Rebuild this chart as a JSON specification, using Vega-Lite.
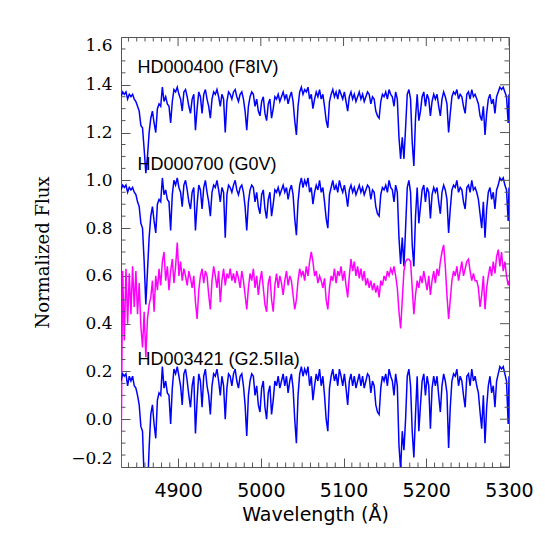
{
"$schema": "https://vega.github.io/schema/vega-lite/v6.json",
"width": 388, "height": 430,
"autosize": {"type": "none"},
"padding": {"left": 121, "top": 37, "right": 36, "bottom": 78},
"background": "white",
"config": {"view": {"stroke": "#555", "strokeWidth": 1}, "axis": {"grid": false, "domain": false, "labelColor": "black", "titleColor": "black", "tickColor": "#555", "tickWidth": 1}},
"datasets": {
"spec": [
{"w":4831,"a":1.35,"b":0.96,"c":-0.22,"d":0.16},
{"w":4833,"a":1.37,"b":0.98,"c":0.62,"d":0.19},
{"w":4835,"a":1.36,"b":0.97,"c":0.33,"d":0.18},
{"w":4837,"a":1.37,"b":0.98,"c":0.63,"d":0.19},
{"w":4839,"a":1.34,"b":0.95,"c":0.40,"d":0.14},
{"w":4841,"a":1.36,"b":0.97,"c":0.61,"d":0.18},
{"w":4843,"a":1.35,"b":0.96,"c":0.44,"d":0.16},
{"w":4845,"a":1.36,"b":0.97,"c":0.64,"d":0.18},
{"w":4847,"a":1.34,"b":0.95,"c":0.47,"d":0.14},
{"w":4849,"a":1.33,"b":0.94,"c":0.62,"d":0.13},
{"w":4851,"a":1.31,"b":0.91,"c":0.44,"d":0.10},
{"w":4853,"a":1.29,"b":0.89,"c":0.57,"d":0.06},
{"w":4855,"a":1.23,"b":0.82,"c":0.39,"d":-0.03},
{"w":4857,"a":1.22,"b":0.80,"c":0.30,"d":-0.05},
{"w":4859,"a":1.13,"b":0.66,"c":0.45,"d":-0.25},
{"w":4861,"a":1.03,"b":0.48,"c":0.26,"d":-0.45},
{"w":4863,"a":1.10,"b":0.62,"c":0.42,"d":-0.30},
{"w":4865,"a":1.20,"b":0.76,"c":0.48,"d":-0.12},
{"w":4867,"a":1.26,"b":0.85,"c":0.51,"d":0.02},
{"w":4869,"a":1.29,"b":0.89,"c":0.58,"d":0.06},
{"w":4871,"a":1.24,"b":0.83,"c":0.45,"d":-0.02},
{"w":4873,"a":1.20,"b":0.78,"c":0.60,"d":-0.08},
{"w":4875,"a":1.30,"b":0.90,"c":0.54,"d":0.08},
{"w":4877,"a":1.32,"b":0.92,"c":0.63,"d":0.11},
{"w":4879,"a":1.31,"b":0.91,"c":0.56,"d":0.10},
{"w":4881,"a":1.39,"b":1.01,"c":0.66,"d":0.22},
{"w":4883,"a":1.33,"b":0.94,"c":0.70,"d":0.13},
{"w":4885,"a":1.35,"b":0.96,"c":0.58,"d":0.16},
{"w":4887,"a":1.32,"b":0.92,"c":0.64,"d":0.11},
{"w":4889,"a":1.31,"b":0.91,"c":0.54,"d":0.10},
{"w":4891,"a":1.24,"b":0.79,"c":0.62,"d":-0.02},
{"w":4893,"a":1.33,"b":0.94,"c":0.67,"d":0.13},
{"w":4895,"a":1.38,"b":1.00,"c":0.57,"d":0.21},
{"w":4897,"a":1.37,"b":0.98,"c":0.64,"d":0.19},
{"w":4899,"a":1.39,"b":1.01,"c":0.74,"d":0.22},
{"w":4901,"a":1.36,"b":0.97,"c":0.60,"d":0.18},
{"w":4903,"a":1.34,"b":0.95,"c":0.66,"d":0.14},
{"w":4905,"a":1.29,"b":0.89,"c":0.58,"d":0.06},
{"w":4907,"a":1.37,"b":0.98,"c":0.63,"d":0.19},
{"w":4909,"a":1.38,"b":1.00,"c":0.60,"d":0.21},
{"w":4911,"a":1.35,"b":0.96,"c":0.56,"d":0.16},
{"w":4913,"a":1.31,"b":0.91,"c":0.62,"d":0.10},
{"w":4915,"a":1.28,"b":0.88,"c":0.59,"d":0.05},
{"w":4917,"a":1.34,"b":0.95,"c":0.55,"d":0.14},
{"w":4919,"a":1.36,"b":0.97,"c":0.60,"d":0.18},
{"w":4921,"a":1.21,"b":0.79,"c":0.49,"d":-0.06},
{"w":4923,"a":1.30,"b":0.90,"c":0.42,"d":0.08},
{"w":4925,"a":1.37,"b":0.98,"c":0.54,"d":0.19},
{"w":4927,"a":1.35,"b":0.96,"c":0.60,"d":0.16},
{"w":4929,"a":1.28,"b":0.88,"c":0.63,"d":0.05},
{"w":4931,"a":1.36,"b":0.97,"c":0.57,"d":0.18},
{"w":4933,"a":1.38,"b":1.00,"c":0.62,"d":0.21},
{"w":4935,"a":1.34,"b":0.95,"c":0.60,"d":0.14},
{"w":4937,"a":1.31,"b":0.91,"c":0.52,"d":0.10},
{"w":4939,"a":1.26,"b":0.85,"c":0.46,"d":0.02},
{"w":4941,"a":1.34,"b":0.95,"c":0.58,"d":0.14},
{"w":4943,"a":1.37,"b":0.98,"c":0.64,"d":0.19},
{"w":4945,"a":1.36,"b":0.97,"c":0.60,"d":0.18},
{"w":4947,"a":1.38,"b":1.00,"c":0.55,"d":0.21},
{"w":4949,"a":1.35,"b":0.96,"c":0.62,"d":0.16},
{"w":4951,"a":1.31,"b":0.91,"c":0.49,"d":0.10},
{"w":4953,"a":1.36,"b":0.97,"c":0.58,"d":0.18},
{"w":4955,"a":1.34,"b":0.95,"c":0.63,"d":0.14},
{"w":4957,"a":1.20,"b":0.76,"c":0.56,"d":0.00},
{"w":4959,"a":1.33,"b":0.94,"c":0.61,"d":0.13},
{"w":4961,"a":1.37,"b":0.98,"c":0.59,"d":0.19},
{"w":4963,"a":1.36,"b":0.97,"c":0.63,"d":0.18},
{"w":4965,"a":1.34,"b":0.95,"c":0.58,"d":0.14},
{"w":4967,"a":1.37,"b":0.98,"c":0.61,"d":0.19},
{"w":4969,"a":1.38,"b":1.00,"c":0.57,"d":0.21},
{"w":4971,"a":1.35,"b":0.96,"c":0.62,"d":0.16},
{"w":4973,"a":1.33,"b":0.94,"c":0.59,"d":0.13},
{"w":4975,"a":1.36,"b":0.97,"c":0.55,"d":0.18},
{"w":4977,"a":1.37,"b":0.98,"c":0.62,"d":0.19},
{"w":4979,"a":1.34,"b":0.95,"c":0.58,"d":0.14},
{"w":4981,"a":1.29,"b":0.89,"c":0.52,"d":0.06},
{"w":4983,"a":1.21,"b":0.79,"c":0.46,"d":-0.07},
{"w":4985,"a":1.31,"b":0.91,"c":0.55,"d":0.10},
{"w":4987,"a":1.35,"b":0.96,"c":0.61,"d":0.16},
{"w":4989,"a":1.37,"b":0.98,"c":0.58,"d":0.19},
{"w":4991,"a":1.36,"b":0.97,"c":0.63,"d":0.18},
{"w":4993,"a":1.31,"b":0.91,"c":0.55,"d":0.10},
{"w":4995,"a":1.34,"b":0.95,"c":0.60,"d":0.14},
{"w":4997,"a":1.29,"b":0.89,"c":0.52,"d":0.06},
{"w":4999,"a":1.27,"b":0.86,"c":0.58,"d":0.03},
{"w":5001,"a":1.33,"b":0.94,"c":0.62,"d":0.13},
{"w":5003,"a":1.35,"b":0.96,"c":0.55,"d":0.16},
{"w":5005,"a":1.28,"b":0.88,"c":0.48,"d":0.05},
{"w":5007,"a":1.25,"b":0.84,"c":0.45,"d":0.00},
{"w":5009,"a":1.32,"b":0.92,"c":0.57,"d":0.11},
{"w":5011,"a":1.34,"b":0.95,"c":0.60,"d":0.14},
{"w":5013,"a":1.26,"b":0.85,"c":0.50,"d":0.02},
{"w":5015,"a":1.30,"b":0.90,"c":0.45,"d":0.08},
{"w":5017,"a":1.35,"b":0.96,"c":0.56,"d":0.16},
{"w":5019,"a":1.34,"b":0.95,"c":0.61,"d":0.14},
{"w":5021,"a":1.36,"b":0.97,"c":0.55,"d":0.18},
{"w":5023,"a":1.33,"b":0.94,"c":0.60,"d":0.13},
{"w":5025,"a":1.35,"b":0.96,"c":0.57,"d":0.16},
{"w":5027,"a":1.37,"b":0.98,"c":0.52,"d":0.19},
{"w":5029,"a":1.34,"b":0.95,"c":0.58,"d":0.14},
{"w":5031,"a":1.36,"b":0.97,"c":0.62,"d":0.18},
{"w":5033,"a":1.32,"b":0.92,"c":0.56,"d":0.11},
{"w":5035,"a":1.35,"b":0.96,"c":0.60,"d":0.16},
{"w":5037,"a":1.37,"b":0.98,"c":0.58,"d":0.19},
{"w":5039,"a":1.33,"b":0.94,"c":0.52,"d":0.13},
{"w":5041,"a":1.25,"b":0.84,"c":0.46,"d":0.00},
{"w":5043,"a":1.19,"b":0.77,"c":0.50,"d":-0.10},
{"w":5045,"a":1.31,"b":0.91,"c":0.58,"d":0.10},
{"w":5047,"a":1.37,"b":0.98,"c":0.63,"d":0.19},
{"w":5049,"a":1.39,"b":1.01,"c":0.60,"d":0.22},
{"w":5051,"a":1.36,"b":0.97,"c":0.62,"d":0.18},
{"w":5053,"a":1.38,"b":1.00,"c":0.58,"d":0.21},
{"w":5055,"a":1.37,"b":0.98,"c":0.64,"d":0.19},
{"w":5057,"a":1.39,"b":1.01,"c":0.60,"d":0.22},
{"w":5059,"a":1.34,"b":0.95,"c":0.66,"d":0.14},
{"w":5061,"a":1.36,"b":0.97,"c":0.70,"d":0.18},
{"w":5063,"a":1.30,"b":0.90,"c":0.66,"d":0.08},
{"w":5065,"a":1.34,"b":0.95,"c":0.60,"d":0.14},
{"w":5067,"a":1.37,"b":0.98,"c":0.62,"d":0.19},
{"w":5069,"a":1.35,"b":0.96,"c":0.57,"d":0.16},
{"w":5071,"a":1.38,"b":1.00,"c":0.60,"d":0.21},
{"w":5073,"a":1.34,"b":0.95,"c":0.58,"d":0.14},
{"w":5075,"a":1.36,"b":0.97,"c":0.55,"d":0.18},
{"w":5077,"a":1.31,"b":0.91,"c":0.59,"d":0.10},
{"w":5079,"a":1.25,"b":0.84,"c":0.50,"d":0.00},
{"w":5081,"a":1.22,"b":0.80,"c":0.46,"d":-0.05},
{"w":5083,"a":1.33,"b":0.94,"c":0.55,"d":0.13},
{"w":5085,"a":1.36,"b":0.97,"c":0.60,"d":0.18},
{"w":5087,"a":1.38,"b":1.00,"c":0.58,"d":0.21},
{"w":5089,"a":1.35,"b":0.96,"c":0.63,"d":0.16},
{"w":5091,"a":1.37,"b":0.98,"c":0.57,"d":0.19},
{"w":5093,"a":1.34,"b":0.95,"c":0.62,"d":0.14},
{"w":5095,"a":1.38,"b":1.00,"c":0.60,"d":0.21},
{"w":5097,"a":1.36,"b":0.97,"c":0.64,"d":0.18},
{"w":5099,"a":1.34,"b":0.95,"c":0.58,"d":0.14},
{"w":5101,"a":1.37,"b":0.98,"c":0.62,"d":0.19},
{"w":5103,"a":1.33,"b":0.94,"c":0.56,"d":0.13},
{"w":5105,"a":1.29,"b":0.89,"c":0.51,"d":0.06},
{"w":5107,"a":1.35,"b":0.96,"c":0.60,"d":0.16},
{"w":5109,"a":1.37,"b":0.98,"c":0.67,"d":0.19},
{"w":5111,"a":1.34,"b":0.95,"c":0.62,"d":0.14},
{"w":5113,"a":1.36,"b":0.97,"c":0.66,"d":0.18},
{"w":5115,"a":1.33,"b":0.94,"c":0.60,"d":0.13},
{"w":5117,"a":1.35,"b":0.96,"c":0.64,"d":0.16},
{"w":5119,"a":1.37,"b":0.98,"c":0.59,"d":0.19},
{"w":5121,"a":1.34,"b":0.95,"c":0.63,"d":0.14},
{"w":5123,"a":1.36,"b":0.97,"c":0.58,"d":0.18},
{"w":5125,"a":1.33,"b":0.94,"c":0.62,"d":0.13},
{"w":5127,"a":1.35,"b":0.96,"c":0.56,"d":0.16},
{"w":5129,"a":1.37,"b":0.98,"c":0.59,"d":0.19},
{"w":5131,"a":1.36,"b":0.97,"c":0.55,"d":0.18},
{"w":5133,"a":1.32,"b":0.92,"c":0.58,"d":0.11},
{"w":5135,"a":1.35,"b":0.96,"c":0.54,"d":0.16},
{"w":5137,"a":1.34,"b":0.95,"c":0.57,"d":0.14},
{"w":5139,"a":1.29,"b":0.89,"c":0.53,"d":0.06},
{"w":5141,"a":1.27,"b":0.86,"c":0.56,"d":0.03},
{"w":5143,"a":1.26,"b":0.85,"c":0.51,"d":0.02},
{"w":5145,"a":1.33,"b":0.94,"c":0.58,"d":0.13},
{"w":5147,"a":1.36,"b":0.97,"c":0.56,"d":0.18},
{"w":5149,"a":1.35,"b":0.96,"c":0.60,"d":0.16},
{"w":5151,"a":1.37,"b":0.98,"c":0.58,"d":0.19},
{"w":5153,"a":1.34,"b":0.95,"c":0.62,"d":0.14},
{"w":5155,"a":1.38,"b":1.00,"c":0.60,"d":0.21},
{"w":5157,"a":1.36,"b":0.97,"c":0.63,"d":0.18},
{"w":5159,"a":1.35,"b":0.96,"c":0.61,"d":0.16},
{"w":5161,"a":1.31,"b":0.91,"c":0.64,"d":0.10},
{"w":5163,"a":1.37,"b":0.98,"c":0.60,"d":0.19},
{"w":5165,"a":1.34,"b":0.95,"c":0.55,"d":0.14},
{"w":5167,"a":1.18,"b":0.76,"c":0.45,"d":-0.11},
{"w":5169,"a":1.09,"b":0.65,"c":0.38,"d":-0.21},
{"w":5171,"a":1.18,"b":0.76,"c":0.50,"d":-0.05},
{"w":5173,"a":1.09,"b":0.64,"c":0.62,"d":-0.13},
{"w":5175,"a":1.22,"b":0.80,"c":0.66,"d":0.00},
{"w":5177,"a":1.36,"b":0.97,"c":0.67,"d":0.18},
{"w":5179,"a":1.38,"b":1.00,"c":0.67,"d":0.21},
{"w":5181,"a":1.34,"b":0.95,"c":0.66,"d":0.14},
{"w":5183,"a":1.16,"b":0.73,"c":0.55,"d":-0.05},
{"w":5185,"a":1.06,"b":0.64,"c":0.44,"d":-0.16},
{"w":5187,"a":1.26,"b":0.85,"c":0.52,"d":0.02},
{"w":5189,"a":1.36,"b":0.97,"c":0.58,"d":0.18},
{"w":5191,"a":1.25,"b":0.82,"c":0.55,"d":-0.05},
{"w":5193,"a":1.29,"b":0.89,"c":0.60,"d":0.06},
{"w":5195,"a":1.35,"b":0.96,"c":0.57,"d":0.16},
{"w":5197,"a":1.37,"b":0.98,"c":0.62,"d":0.19},
{"w":5199,"a":1.31,"b":0.91,"c":0.58,"d":0.10},
{"w":5201,"a":1.36,"b":0.97,"c":0.54,"d":0.18},
{"w":5203,"a":1.34,"b":0.95,"c":0.60,"d":0.14},
{"w":5205,"a":1.27,"b":0.84,"c":0.52,"d":-0.04},
{"w":5207,"a":1.33,"b":0.94,"c":0.58,"d":0.13},
{"w":5209,"a":1.36,"b":0.97,"c":0.62,"d":0.18},
{"w":5211,"a":1.34,"b":0.95,"c":0.57,"d":0.14},
{"w":5213,"a":1.36,"b":0.97,"c":0.63,"d":0.18},
{"w":5215,"a":1.31,"b":0.91,"c":0.60,"d":0.10},
{"w":5217,"a":1.27,"b":0.86,"c":0.66,"d":0.03},
{"w":5219,"a":1.34,"b":0.95,"c":0.70,"d":0.14},
{"w":5221,"a":1.37,"b":0.98,"c":0.73,"d":0.19},
{"w":5223,"a":1.35,"b":0.96,"c":0.64,"d":0.16},
{"w":5225,"a":1.32,"b":0.92,"c":0.52,"d":0.11},
{"w":5227,"a":1.20,"b":0.78,"c":0.42,"d":-0.12},
{"w":5229,"a":1.28,"b":0.88,"c":0.50,"d":0.05},
{"w":5231,"a":1.35,"b":0.96,"c":0.58,"d":0.16},
{"w":5233,"a":1.37,"b":0.98,"c":0.62,"d":0.19},
{"w":5235,"a":1.36,"b":0.97,"c":0.60,"d":0.18},
{"w":5237,"a":1.38,"b":1.00,"c":0.64,"d":0.21},
{"w":5239,"a":1.34,"b":0.95,"c":0.58,"d":0.14},
{"w":5241,"a":1.36,"b":0.97,"c":0.62,"d":0.18},
{"w":5243,"a":1.35,"b":0.96,"c":0.66,"d":0.16},
{"w":5245,"a":1.31,"b":0.91,"c":0.60,"d":0.10},
{"w":5247,"a":1.28,"b":0.88,"c":0.63,"d":0.05},
{"w":5249,"a":1.36,"b":0.97,"c":0.66,"d":0.18},
{"w":5251,"a":1.37,"b":0.98,"c":0.67,"d":0.19},
{"w":5253,"a":1.34,"b":0.95,"c":0.62,"d":0.14},
{"w":5255,"a":1.38,"b":1.00,"c":0.58,"d":0.21},
{"w":5257,"a":1.35,"b":0.96,"c":0.61,"d":0.16},
{"w":5259,"a":1.36,"b":0.97,"c":0.58,"d":0.18},
{"w":5261,"a":1.34,"b":0.95,"c":0.58,"d":0.14},
{"w":5263,"a":1.32,"b":0.92,"c":0.55,"d":0.11},
{"w":5265,"a":1.27,"b":0.86,"c":0.47,"d":0.03},
{"w":5267,"a":1.25,"b":0.80,"c":0.52,"d":-0.04},
{"w":5269,"a":1.31,"b":0.91,"c":0.60,"d":0.10},
{"w":5271,"a":1.19,"b":0.76,"c":0.46,"d":-0.10},
{"w":5273,"a":1.28,"b":0.88,"c":0.55,"d":0.05},
{"w":5275,"a":1.34,"b":0.95,"c":0.60,"d":0.14},
{"w":5277,"a":1.36,"b":0.97,"c":0.64,"d":0.18},
{"w":5279,"a":1.32,"b":0.92,"c":0.60,"d":0.11},
{"w":5281,"a":1.34,"b":0.95,"c":0.66,"d":0.14},
{"w":5283,"a":1.28,"b":0.88,"c":0.61,"d":0.05},
{"w":5285,"a":1.35,"b":0.96,"c":0.68,"d":0.16},
{"w":5287,"a":1.37,"b":0.98,"c":0.71,"d":0.19},
{"w":5289,"a":1.39,"b":1.01,"c":0.64,"d":0.22},
{"w":5291,"a":1.38,"b":1.00,"c":0.70,"d":0.21},
{"w":5293,"a":1.39,"b":1.01,"c":0.62,"d":0.22},
{"w":5295,"a":1.37,"b":0.98,"c":0.66,"d":0.19},
{"w":5297,"a":1.35,"b":0.96,"c":0.60,"d":0.16},
{"w":5299,"a":1.24,"b":0.83,"c":0.56,"d":-0.02},
{"w":5300,"a":1.36,"b":0.97,"c":0.58,"d":0.18}
],
"labels": [
{"w":4851,"y":1.45,"label":"HD000400 (F8IV)"},
{"w":4851,"y":1.045,"label":"HD000700 (G0V)"},
{"w":4851,"y":0.225,"label":"HD003421 (G2.5IIa)"}
],
"xmaj": [{"t":4900},{"t":5000},{"t":5100},{"t":5200},{"t":5300}],
"xmin": [{"t":4840},{"t":4850},{"t":4860},{"t":4870},{"t":4880},{"t":4890},{"t":4910},{"t":4920},{"t":4930},{"t":4940},{"t":4950},{"t":4960},{"t":4970},{"t":4980},{"t":4990},{"t":5010},{"t":5020},{"t":5030},{"t":5040},{"t":5050},{"t":5060},{"t":5070},{"t":5080},{"t":5090},{"t":5110},{"t":5120},{"t":5130},{"t":5140},{"t":5150},{"t":5160},{"t":5170},{"t":5180},{"t":5190},{"t":5210},{"t":5220},{"t":5230},{"t":5240},{"t":5250},{"t":5260},{"t":5270},{"t":5280},{"t":5290}],
"ymaj": [{"t":-0.2},{"t":0},{"t":0.2},{"t":0.4},{"t":0.6},{"t":0.8},{"t":1.0},{"t":1.2},{"t":1.4},{"t":1.6}],
"ymin": [{"t":-0.15},{"t":-0.1},{"t":-0.05},{"t":0.05},{"t":0.1},{"t":0.15},{"t":0.25},{"t":0.3},{"t":0.35},{"t":0.45},{"t":0.5},{"t":0.55},{"t":0.65},{"t":0.7},{"t":0.75},{"t":0.85},{"t":0.9},{"t":0.95},{"t":1.05},{"t":1.1},{"t":1.15},{"t":1.25},{"t":1.3},{"t":1.35},{"t":1.45},{"t":1.5},{"t":1.55}]
},
"encoding": {
"x": {"type": "quantitative", "scale": {"domain": [4831, 5300], "nice": false, "zero": false},
"axis": {"orient": "bottom", "values": [4900,5000,5100,5200,5300], "ticks": true, "tickSize": 9, "offset": -9, "domain": false, "format": "d", "labelFont": "DejaVu Sans", "labelFontSize": 19, "labelPadding": 14, "labelFlush": false, "labelOverlap": false, "title": "Wavelength (Å)", "titleFont": "DejaVu Sans", "titleFontSize": 19, "titleFontWeight": "normal", "titlePadding": 5}},
"y": {"type": "quantitative", "scale": {"domain": [-0.2, 1.6], "nice": false, "zero": false},
"axis": {"orient": "left", "values": [-0.2,0,0.2,0.4,0.6,0.8,1.0,1.2,1.4,1.6], "ticks": true, "tickSize": 9, "offset": -9, "domain": false, "format": ".1f", "labelFont": "DejaVu Serif", "labelFontSize": 17, "labelPadding": 9, "labelFlush": true, "labelOverlap": false, "title": "Normalized Flux", "titleFont": "DejaVu Serif", "titleFontSize": 18, "titleFontWeight": "normal", "titlePadding": 18}}
},
"layer": [
{
"data": {"name": "spec"},
"transform": [{"fold": ["a","b","c","d"], "as": ["s","v"]}],
"mark": {"type": "line", "strokeWidth": 1.5, "clip": true},
"encoding": {
"x": {"field": "w"},
"y": {"field": "v"},
"color": {"field": "s", "type": "nominal", "scale": {"domain": ["a","b","c","d"], "range": ["#0000ff","#0000ff","#ff00ff","#0000ff"]}, "legend": null}
}
},
{
"data": {"name": "labels"},
"mark": {"type": "text", "align": "left", "baseline": "alphabetic", "font": "Liberation Sans", "fontSize": 18, "color": "black"},
"encoding": {
"x": {"field": "w"},
"y": {"field": "y"},
"text": {"field": "label", "type": "nominal"}
}
},
{
"data": {"name": "xmaj"},
"mark": {"type": "tick", "orient": "vertical", "size": 18, "thickness": 1, "color": "#555", "opacity": 1, "clip": true},
"encoding": {"x": {"field": "t"}, "y": {"datum": 1.6}}
},
{
"data": {"name": "xmin"},
"mark": {"type": "tick", "orient": "vertical", "size": 9, "thickness": 1, "color": "#555", "opacity": 1, "clip": true},
"encoding": {"x": {"field": "t"}, "y": {"datum": -0.2}}
},
{
"data": {"name": "xmin"},
"mark": {"type": "tick", "orient": "vertical", "size": 9, "thickness": 1, "color": "#555", "opacity": 1, "clip": true},
"encoding": {"x": {"field": "t"}, "y": {"datum": 1.6}}
},
{
"data": {"name": "ymaj"},
"mark": {"type": "tick", "orient": "horizontal", "size": 18, "thickness": 1, "color": "#555", "opacity": 1, "clip": true},
"encoding": {"y": {"field": "t"}, "x": {"datum": 5300}}
},
{
"data": {"name": "ymin"},
"mark": {"type": "tick", "orient": "horizontal", "size": 9, "thickness": 1, "color": "#555", "opacity": 1, "clip": true},
"encoding": {"y": {"field": "t"}, "x": {"datum": 4831}}
},
{
"data": {"name": "ymin"},
"mark": {"type": "tick", "orient": "horizontal", "size": 9, "thickness": 1, "color": "#555", "opacity": 1, "clip": true},
"encoding": {"y": {"field": "t"}, "x": {"datum": 5300}}
}
]
}
